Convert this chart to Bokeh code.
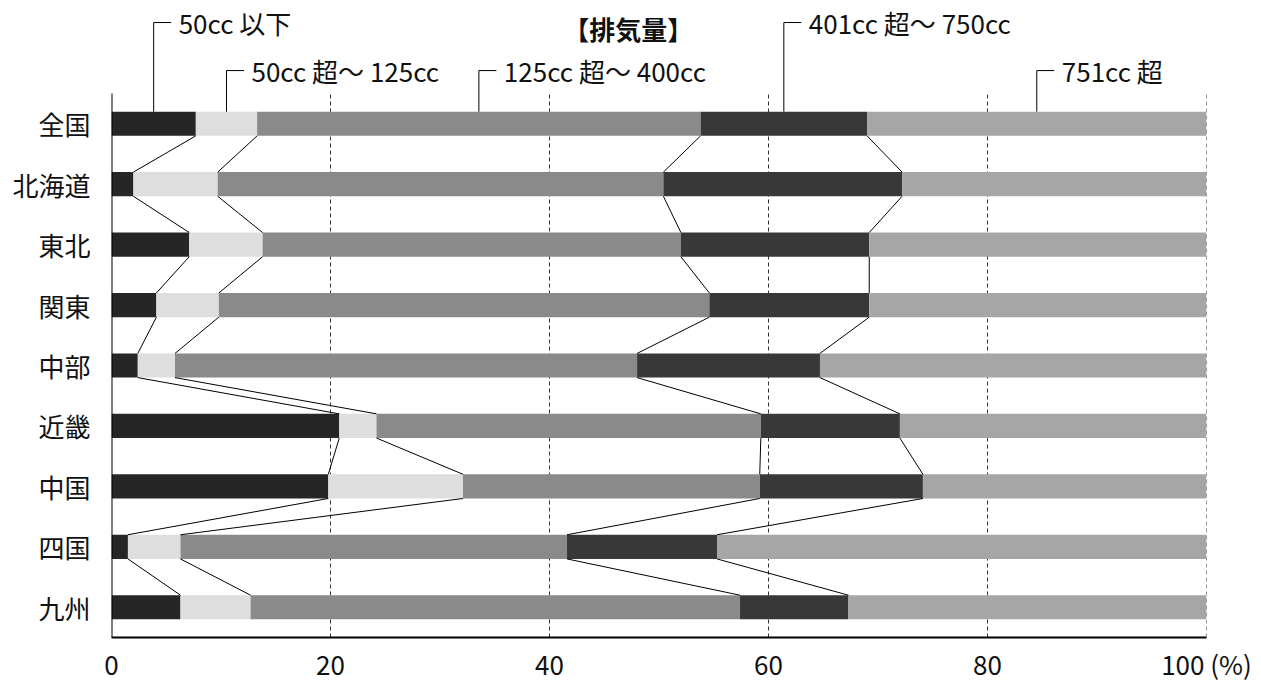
from bokeh.plotting import figure
from bokeh.models import Range1d, FixedTicker, Label
from bokeh.embed import file_html
from bokeh.resources import INLINE

regions = ["全国", "北海道", "東北", "関東", "中部", "近畿", "中国", "四国", "九州"]
series_names = ["50cc 以下", "50cc 超～ 125cc", "125cc 超～ 400cc", "401cc 超～ 750cc", "751cc 超"]
share_50 = [7.7, 2.0, 7.1, 4.1, 2.4, 20.8, 19.8, 1.5, 6.3]
share_125 = [5.6, 7.7, 6.7, 5.7, 3.4, 3.4, 12.3, 4.8, 6.4]
share_400 = [40.5, 40.7, 38.2, 44.8, 42.2, 35.1, 27.1, 35.3, 44.7]
share_750 = [15.2, 21.8, 17.2, 14.6, 16.7, 12.7, 14.9, 13.7, 9.9]
share_over = [31.0, 27.8, 30.8, 30.8, 35.3, 28.0, 25.9, 44.7, 32.7]
x_ticks = [0, 20, 40, 60, 80, 100]
x_tick_labels = ["0", "20", "40", "60", "80", "100 (%)"]
title_text = "【排気量】"

series = [share_50, share_125, share_400, share_750, share_over]
colors = ["#262626", "#dedede", "#8a8a8a", "#383838", "#a6a6a6"]
callout_row = [0, 1, 1, 0, 1]  # 0 = upper row, 1 = lower row

FONT = "Noto Sans CJK JP"
n = len(regions)
ys = [n - 0.5 - i for i in range(n)]
BAR_H = 0.4
Y_TOP = 10.407

p = figure(frame_width=1095, frame_height=629, output_backend="svg",
           toolbar_location=None, x_range=Range1d(0, 100), y_range=Range1d(0, Y_TOP),
           min_border_left=111, min_border_right=47, min_border_top=8, min_border_bottom=35)
p.outline_line_color = None
p.xgrid.grid_line_color = None
p.ygrid.grid_line_color = None
p.background_fill_color = "white"

# dashed grid lines (only over bar area)
gx = x_ticks[1:]
p.segment(x0=gx, y0=[0] * len(gx), x1=gx, y1=[n] * len(gx),
          line_color="#333333", line_width=1, line_dash="4 3")

# stacked bars
cums = []
left = [0.0] * n
for vals, col in zip(series, colors):
    right = [l + v for l, v in zip(left, vals)]
    p.hbar(y=ys, left=left, right=right, height=BAR_H, fill_color=col, line_color=None)
    cums.append(right)
    left = right

# connector lines between consecutive rows
for k in range(4):
    c = cums[k]
    p.segment(x0=c[:-1], y0=[y - BAR_H / 2 for y in ys[:-1]],
              x1=c[1:], y1=[y + BAR_H / 2 for y in ys[1:]],
              line_color="black", line_width=1)

# callouts
row_y = [10.175, 9.38]
for j, name in enumerate(series_names):
    lo = 0.0 if j == 0 else cums[j - 1][0]
    hi = cums[j][0]
    xm = (lo + hi) / 2
    yy = row_y[callout_row[j]]
    p.line(x=[xm, xm, xm + 1.6], y=[ys[0] + BAR_H / 2, yy, yy], line_color="black", line_width=1)
    p.add_layout(Label(x=xm, y=yy, x_offset=25, text=name, text_baseline="middle",
                       text_font=FONT, text_font_size="26px", text_color="#111111"))

# title
p.add_layout(Label(x=47.2, y=10.39, text=title_text, text_align="center",
                   text_baseline="top", text_font=FONT, text_font_style="bold",
                   text_font_size="26px", text_color="#111111"))

# y axis line manually (only over bar area)
p.segment(x0=[0], y0=[0], x1=[0], y1=[n], line_color="black", line_width=2)

# axes
p.yaxis.ticker = FixedTicker(ticks=ys)
p.yaxis.major_label_overrides = {y: r for y, r in zip(ys, regions)}
p.yaxis.axis_line_color = None
p.yaxis.major_tick_line_color = None
p.yaxis.minor_tick_line_color = None
p.yaxis.major_label_standoff = 15
p.yaxis.major_label_text_font = FONT
p.yaxis.major_label_text_font_size = "26px"
p.yaxis.major_label_text_color = "#111111"

p.xaxis.ticker = FixedTicker(ticks=x_ticks)
p.xaxis.major_label_overrides = {t: s for t, s in zip(x_ticks, x_tick_labels)}
p.xaxis.axis_line_color = "black"
p.xaxis.axis_line_width = 2
p.xaxis.major_tick_line_color = None
p.xaxis.minor_tick_line_color = None
p.xaxis.major_label_standoff = 1
p.xaxis.major_label_text_font = FONT
p.xaxis.major_label_text_font_size = "26px"
p.xaxis.major_label_text_color = "#111111"

open("out.html", "w").write(file_html(p, INLINE))
